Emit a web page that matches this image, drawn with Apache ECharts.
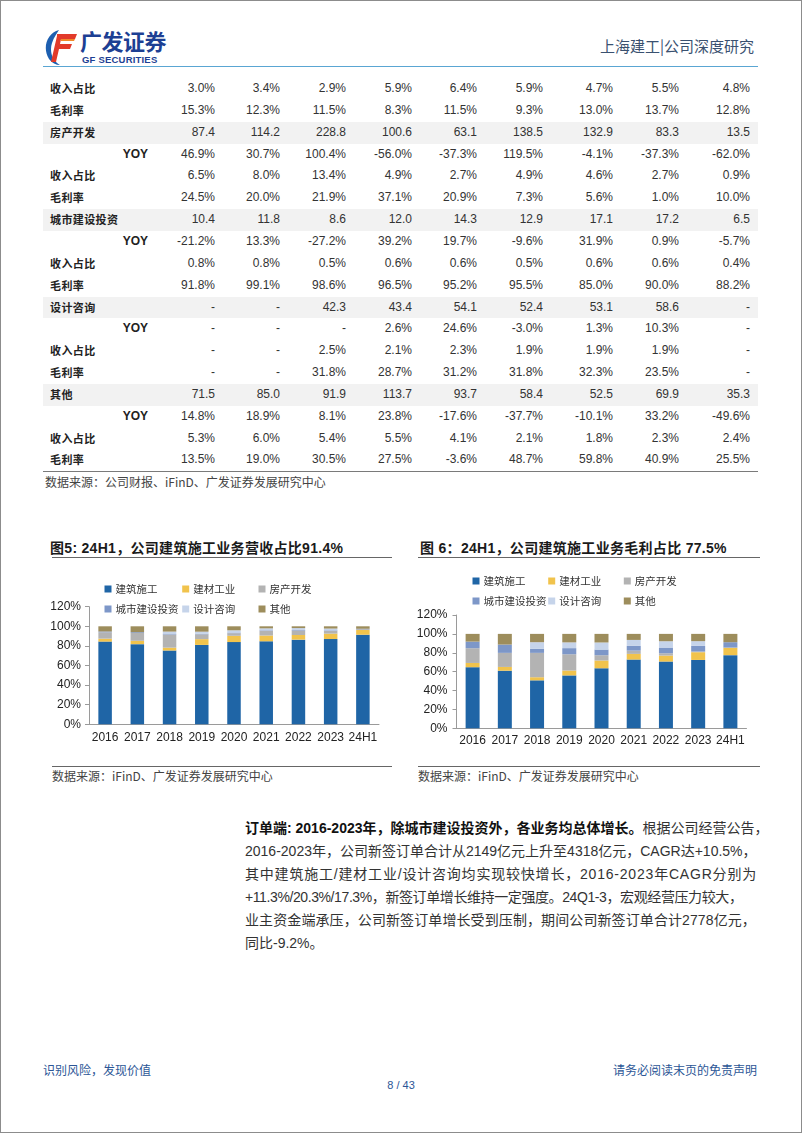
<!DOCTYPE html>
<html>
<head>
<meta charset="utf-8">
<script src="https://cdn.jsdelivr.net/npm/echarts@6/dist/echarts.min.js"></script>
<style>
html,body{margin:0;padding:0;background:#fff;}
body{width:802px;height:1133px;position:relative;overflow:hidden;font-family:"Liberation Sans",Arial,"Noto Sans CJK SC",sans-serif;color:#222;}
#frame{position:absolute;left:0;top:0;width:802px;height:1133px;box-sizing:border-box;border:1px solid #8c8c8c;pointer-events:none;z-index:10;}
.abs{position:absolute;white-space:nowrap;}
#brand{left:80px;top:27px;font-size:22px;font-weight:bold;color:#1d3f93;font-family:"Noto Sans CJK SC",sans-serif;letter-spacing:-0.5px;line-height:26px;}
#brandEn{left:82px;top:54px;font-size:9.5px;font-weight:bold;color:#1d3f93;letter-spacing:0.2px;line-height:11px;}
#hdrRight{right:48px;top:37px;font-size:15px;color:#3a5170;font-family:"Noto Sans CJK SC",sans-serif;line-height:18px;}
#hdrRule{left:43px;top:66px;width:715px;height:0;border-top:1.5px solid #5aa6d3;}
.row{position:absolute;left:43px;width:715px;height:21.85px;}
.row.shade{background:#f2f2f2;}
.lab{position:absolute;left:7px;top:0;line-height:21.85px;font-size:11px;font-weight:bold;font-family:"Noto Sans CJK SC",sans-serif;color:#222;letter-spacing:0.4px;}
.yoy{position:absolute;right:610px;top:0;line-height:21.85px;font-size:12px;font-weight:bold;color:#222;}
.val{position:absolute;top:0;line-height:21.85px;font-size:12px;color:#333;text-align:right;}
#tblRule{left:43px;top:470.5px;width:715px;border-top:1.5px solid #7a7a7a;}
.src{font-size:12px;color:#444;font-family:"Noto Sans CJK SC",sans-serif;line-height:14px;}
.ftitle{font-size:14px;font-weight:bold;color:#1a1a1a;line-height:18px;letter-spacing:0.3px;}
.rule{border-top:1px solid #666;height:0;}
#para{left:245px;top:817px;font-size:14px;line-height:23px;color:#333;}
#para b{color:#111;}
.foot{font-size:12px;color:#2c5696;font-family:"Noto Sans CJK SC",sans-serif;line-height:14px;}
#charts{position:absolute;left:0;top:560px;width:802px;height:200px;}
</style>
</head>
<body>
<div id="frame"></div>

<svg class="abs" style="left:43px;top:28px" width="36" height="38" viewBox="0 0 36 38">
  <path d="M16 2 C4 5 -1 20 6 31 C9 35 13 37 17 37 C10 33 6 24 9 15 C11 9 14 5 16 2 Z" fill="#1d5fb0"/>
  <path d="M14 6 L34 6 L32 11 L18 11 L17 16 L29 16 L27 21 L16 21 L13 34 L8 34 L14 8 Z" fill="#e23a2a"/>
  <path d="M18 11 L32 11 L31 13 L18 13 Z" fill="#f28a2a"/>
</svg>
<div id="brand" class="abs">广发证券</div>
<div id="brandEn" class="abs">GF SECURITIES</div>
<div id="hdrRight" class="abs">上海建工|公司深度研究</div>
<div id="hdrRule" class="abs"></div>

<div id="table"></div>
<div id="tblRule" class="abs"></div>
<div class="abs src" style="left:45px;top:475px;">数据来源：公司财报、iFinD、广发证券发展研究中心</div>

<div class="abs ftitle" style="left:50px;top:539px;">图5: 24H1，公司建筑施工业务营收占比91.4%</div>
<div class="abs rule" style="left:52px;top:557px;width:340px;"></div>
<div class="abs ftitle" style="left:420px;top:539px;">图 6：24H1，公司建筑施工业务毛利占比 77.5%</div>
<div class="abs rule" style="left:418px;top:557px;width:342px;"></div>

<div id="charts"></div>

<div class="abs rule" style="left:52px;top:766px;width:340px;"></div>
<div class="abs src" style="left:52px;top:769px;">数据来源：iFinD、广发证券发展研究中心</div>
<div class="abs rule" style="left:418px;top:766px;width:342px;"></div>
<div class="abs src" style="left:418px;top:769px;">数据来源：iFinD、广发证券发展研究中心</div>

<div id="para" class="abs"><b>订单端: 2016-2023年，除城市建设投资外，各业务均总体增长。</b>根据公司经营公告，<br>2016-2023年，公司新签订单合计从2149亿元上升至4318亿元，CAGR达+10.5%，<br><span style="letter-spacing:0.8px">其中建筑施工/建材工业/设计咨询均实现较快增长，2016-2023年CAGR分别为</span><br><span style="letter-spacing:-0.4px">+11.3%/20.3%/17.3%，新签订单增长维持一定强度。24Q1-3，宏观经营压力较大，</span><br><span style="letter-spacing:0.1px">业主资金端承压，公司新签订单增长受到压制，期间公司新签订单合计2778亿元，</span><br>同比-9.2%。</div>

<div class="abs foot" style="left:43px;top:1063px;">识别风险，发现价值</div>
<div class="abs foot" style="right:45px;top:1063px;">请务必阅读末页的免责声明</div>
<div class="abs foot" style="left:0;width:802px;text-align:center;top:1078px;font-family:'Liberation Sans',Arial,sans-serif;font-size:11px;">8 / 43</div>

<script>
// ---------- data ----------
const years = ['2016','2017','2018','2019','2020','2021','2022','2023','24H1'];
const segNames = ['建筑施工','建材工业','房产开发','城市建设投资','设计咨询','其他'];

// table: 建材工业 (continued from previous page)
const jcShare  = [3.0,3.4,2.9,5.9,6.4,5.9,4.7,5.5,4.8];
const jcMargin = [15.3,12.3,11.5,8.3,11.5,9.3,13.0,13.7,12.8];
// 房产开发
const fcRev    = [87.4,114.2,228.8,100.6,63.1,138.5,132.9,83.3,13.5];
const fcYoy    = [46.9,30.7,100.4,-56.0,-37.3,119.5,-4.1,-37.3,-62.0];
const fcShare  = [6.5,8.0,13.4,4.9,2.7,4.9,4.6,2.7,0.9];
const fcMargin = [24.5,20.0,21.9,37.1,20.9,7.3,5.6,1.0,10.0];
// 城市建设投资
const csRev    = [10.4,11.8,8.6,12.0,14.3,12.9,17.1,17.2,6.5];
const csYoy    = [-21.2,13.3,-27.2,39.2,19.7,-9.6,31.9,0.9,-5.7];
const csShare  = [0.8,0.8,0.5,0.6,0.6,0.5,0.6,0.6,0.4];
const csMargin = [91.8,99.1,98.6,96.5,95.2,95.5,85.0,90.0,88.2];
// 设计咨询
const sjRev    = [null,null,42.3,43.4,54.1,52.4,53.1,58.6,null];
const sjYoy    = [null,null,null,2.6,24.6,-3.0,1.3,10.3,null];
const sjShare  = [null,null,2.5,2.1,2.3,1.9,1.9,1.9,null];
const sjMargin = [null,null,31.8,28.7,31.2,31.8,32.3,23.5,null];
// 其他
const qtRev    = [71.5,85.0,91.9,113.7,93.7,58.4,52.5,69.9,35.3];
const qtYoy    = [14.8,18.9,8.1,23.8,-17.6,-37.7,-10.1,33.2,-49.6];
const qtShare  = [5.3,6.0,5.4,5.5,4.1,2.1,1.8,2.3,2.4];
const qtMargin = [13.5,19.0,30.5,27.5,-3.6,48.7,59.8,40.9,25.5];

// chart 5: revenue share (%)
const revJzsg = [84.4,81.8,75.3,81.0,83.9,84.7,86.4,87.0,91.4];
const revJcgy = [3.0,3.4,2.9,5.9,6.4,5.9,4.7,5.5,4.8];
const revFckf = [6.5,8.0,13.4,4.9,2.7,4.9,4.6,2.7,0.9];
const revCsjs = [0.8,0.8,0.5,0.6,0.6,0.5,0.6,0.6,0.4];
const revSjzx = [null,null,2.5,2.1,2.3,1.9,1.9,1.9,null];
const revQt   = [5.3,6.0,5.4,5.5,4.1,2.1,1.8,2.3,2.5];

// chart 6: gross profit share (%)
const gpJzsg = [64.7,61.0,50.8,56.0,63.6,72.8,70.7,72.4,77.5];
const gpJcgy = [4.5,4.0,3.3,5.2,8.2,6.0,6.3,8.2,7.7];
const gpFckf = [15.6,14.9,25.8,17.2,5.6,3.5,2.5,0.7,0.3];
const gpCsjs = [7.0,8.8,4.3,6.5,6.0,5.0,6.0,6.0,5.7];
const gpSjzx = [0,0,7.0,6.1,7.5,6.3,6.7,5.0,0];
const gpQt   = [8.2,11.3,8.8,9.0,9.1,6.4,7.8,7.7,8.8];

const yTicks = [0,20,40,60,80,100,120];

// ---------- table ----------
const rows = [
  ['收入占比','pct',jcShare,false],
  ['毛利率','pct',jcMargin,false],
  ['房产开发','num',fcRev,true],
  ['YOY','pct',fcYoy,false],
  ['收入占比','pct',fcShare,false],
  ['毛利率','pct',fcMargin,false],
  ['城市建设投资','num',csRev,true],
  ['YOY','pct',csYoy,false],
  ['收入占比','pct',csShare,false],
  ['毛利率','pct',csMargin,false],
  ['设计咨询','num',sjRev,true],
  ['YOY','pct',sjYoy,false],
  ['收入占比','pct',sjShare,false],
  ['毛利率','pct',sjMargin,false],
  ['其他','num',qtRev,true],
  ['YOY','pct',qtYoy,false],
  ['收入占比','pct',qtShare,false],
  ['毛利率','pct',qtMargin,false]
];
const colRight = [215,280,346,412,477,543,613,679,750]; // page x of right edges
const tableTop = 78, rowH = 21.85;
const tbl = document.getElementById('table');
rows.forEach((r,i)=>{
  const d = document.createElement('div');
  d.className = 'row' + (r[3] ? ' shade' : '');
  d.style.top = (tableTop + i*rowH) + 'px';
  const lab = document.createElement('div');
  lab.className = r[0]==='YOY' ? 'yoy' : 'lab';
  lab.textContent = r[0];
  d.appendChild(lab);
  r[2].forEach((v,j)=>{
    const c = document.createElement('div');
    c.className = 'val';
    c.style.right = (758 - colRight[j]) + 'px';
    c.textContent = v===null ? '-' : (r[1]==='pct' ? v.toFixed(1)+'%' : v.toFixed(1));
    d.appendChild(c);
  });
  tbl.appendChild(d);
});

// ---------- charts ----------
const colors = ['#1F65A6','#F1C34C','#B3B3B3','#7D97C8','#C6D4EA','#9D8D5C'];
const font = '"Liberation Sans", Arial, "Noto Sans CJK SC", sans-serif';
const chart = echarts.init(document.getElementById('charts'), null, {renderer:'canvas'});

function legendsFor(xs, ys){
  const out = [];
  segNames.forEach((n,k)=>{
    out.push({
      data:[n], left: xs[k%3]-3.5, top: ys[Math.floor(k/3)]-7, padding:0,
      itemWidth:7, itemHeight:7, icon:'rect', selectedMode:false,
      textStyle:{fontSize:10.5, color:'#333', fontFamily:'"Noto Sans CJK SC", sans-serif', lineHeight:14, padding:[0,0,0,-1]}
    });
  });
  return out;
}
const legends = legendsFor([108,185.7,262],[29,49]).concat(legendsFor([476,551.7,627.3],[21,41]));

function axesY(gi, margin){
  return {gridIndex:gi, type:'value', min:yTicks[0], max:yTicks[yTicks.length-1], interval:20,
    axisLine:{show:true, lineStyle:{color:'#9a9a9a'}},
    axisTick:{show:true, length:4, lineStyle:{color:'#9a9a9a'}},
    splitLine:{show:false},
    axisLabel:{formatter:'{value}%', fontSize:12, color:'#222', fontFamily:font, margin:margin}};
}
function axesX(gi, margin){
  return {gridIndex:gi, type:'category', data:years,
    axisLine:{show:true, lineStyle:{color:'#9a9a9a'}},
    axisTick:{show:false},
    axisLabel:{fontSize:12, color:'#222', fontFamily:font, margin:margin, interval:0}};
}
const set1 = [revJzsg,revJcgy,revFckf,revCsjs,revSjzx,revQt];
const set2 = [gpJzsg,gpJcgy,gpFckf,gpCsjs,gpSjzx,gpQt];
const series = [];
set1.forEach((d,k)=>series.push({name:segNames[k], type:'bar', stack:'a', xAxisIndex:0, yAxisIndex:0, data:d, barWidth:13.5, itemStyle:{color:colors[k]}}));
set2.forEach((d,k)=>series.push({name:segNames[k], type:'bar', stack:'b', xAxisIndex:1, yAxisIndex:1, data:d, barWidth:14, itemStyle:{color:colors[k]}}));

chart.setOption({
  animation:false,
  color:colors,
  legend:legends,
  grid:[{left:89, top:46.7, width:290, height:117.6},{left:456.5, top:55, width:290, height:113.3}],
  xAxis:[axesX(0,7), axesX(1,6)],
  yAxis:[axesY(0,8), axesY(1,9)],
  series:series
});
</script>
</body>
</html>
